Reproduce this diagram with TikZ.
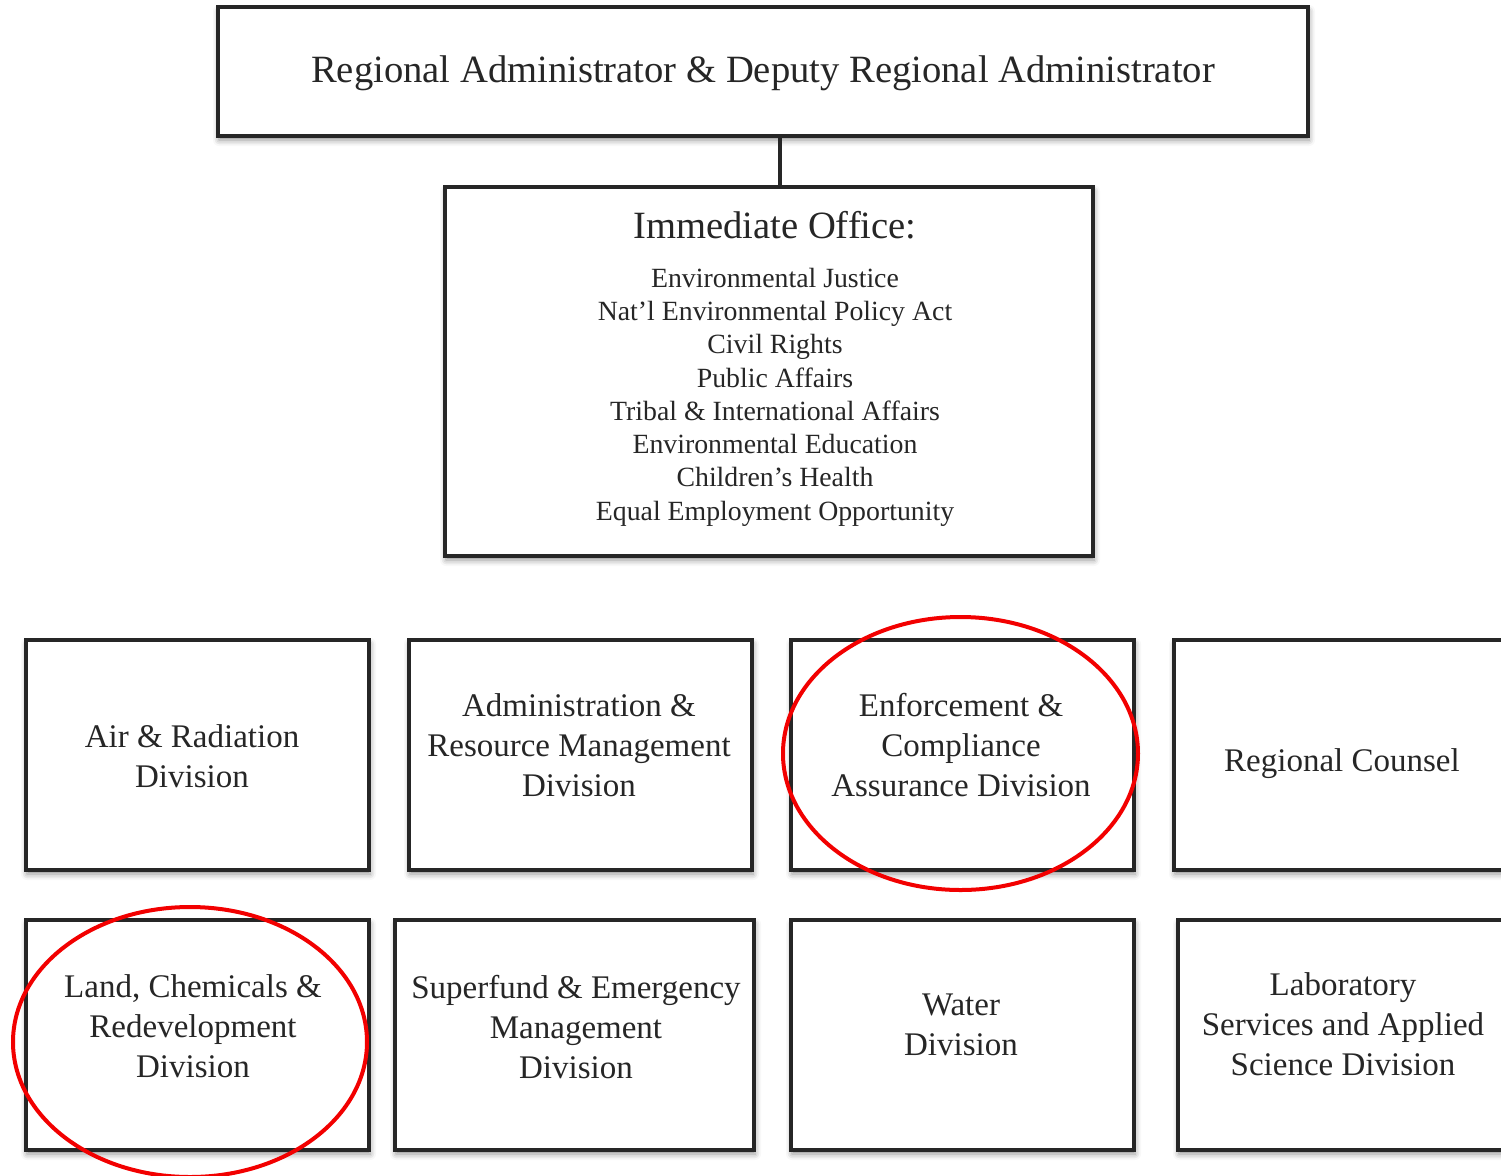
\documentclass[tikz,border=0pt]{standalone}
\usepackage{fontspec}
\setmainfont{Liberation Serif}
\usetikzlibrary{shadows.blur}
\definecolor{ink}{HTML}{262626}
\definecolor{ringred}{HTML}{F20000}
\begin{document}
\begin{tikzpicture}[x=0.5pt,y=-0.5pt,
  box/.style={draw=ink, line width=1.6pt, fill=white, inner sep=0pt,
    blur shadow={shadow xshift=0.5pt, shadow yshift=-2pt, shadow blur radius=3pt, shadow opacity=45}},
  lbl/.style={text=ink, align=center, inner sep=0pt},
  big/.style={lbl, font=\fontsize{19.3}{23}\selectfont},
  small/.style={lbl, font=\fontsize{13.9}{16.65}\selectfont},
  div/.style={lbl, font=\fontsize{16.5}{20}\selectfont},
  ring/.style={draw=ringred, line width=2pt}]
\useasboundingbox (0,0) rectangle (1501,1175);
\clip (0,0) rectangle (1501,1175);
% top boxes
\node[box, minimum width=545pt, minimum height=64.5pt] (top) at (763,71.5) {};
\node[box, minimum width=324pt, minimum height=184.5pt] (office) at (769,371.5) {};
\coordinate (cx) at (780,0);
\draw[ink, line width=1.6pt] (top.south -| cx) -- (office.north -| cx);
\node[big] (toptxt) at (763,73) {Regional Administrator \& Deputy Regional Administrator};
\node[big] (offtitle) at (775,225) {Immediate Office:};
\node[small] (offlist) at (775,397) {Environmental Justice\\Nat’l Environmental Policy Act\\Civil Rights\\Public Affairs\\Tribal \& International Affairs\\Environmental Education\\Children’s Health\\Equal Employment Opportunity};
% row 1
\node[box, minimum width=171.5pt, minimum height=115pt] (a1) at (197.5,755) {};
\node[box, minimum width=171.5pt, minimum height=115pt] (a2) at (580.5,755) {};
\node[box, minimum width=171.5pt, minimum height=115pt] (a3) at (962.5,755) {};
\node[box, minimum width=171.5pt, minimum height=115pt] (a4) at (1345.5,755) {};
\node[div] (t1) at (192,756) {Air \& Radiation\\Division};
\node[div] (t2) at (579,745) {Administration \&\\Resource Management\\Division};
\node[div] (t3) at (961,745) {Enforcement \&\\Compliance\\Assurance Division};
\node[div] (t4) at (1342,764) {Regional Counsel};
% row 2
\node[box, minimum width=171.5pt, minimum height=115pt] (b1) at (197.5,1035) {};
\node[box, minimum width=179.5pt, minimum height=115pt] (b2) at (574.5,1035) {};
\node[box, minimum width=171.5pt, minimum height=115pt] (b3) at (962.5,1035) {};
\node[box, minimum width=171.5pt, minimum height=115pt] (b4) at (1349.5,1035) {};
\node[div] (u1) at (193,1026) {Land, Chemicals \&\\Redevelopment\\Division};
\node[div] (u2) at (576,1027) {Superfund \& Emergency\\Management\\Division};
\node[div] (u3) at (961,1025) {Water\\Division};
\node[div] (u4) at (1343,1024) {Laboratory\\Services and Applied\\Science Division};
% red rings
\draw[ring] (960.5,753.5) ellipse [x radius=88.75pt, y radius=68.25pt];
\draw[ring] (190,1042) ellipse [x radius=88.5pt, y radius=67.5pt];
\end{tikzpicture}
\end{document}
